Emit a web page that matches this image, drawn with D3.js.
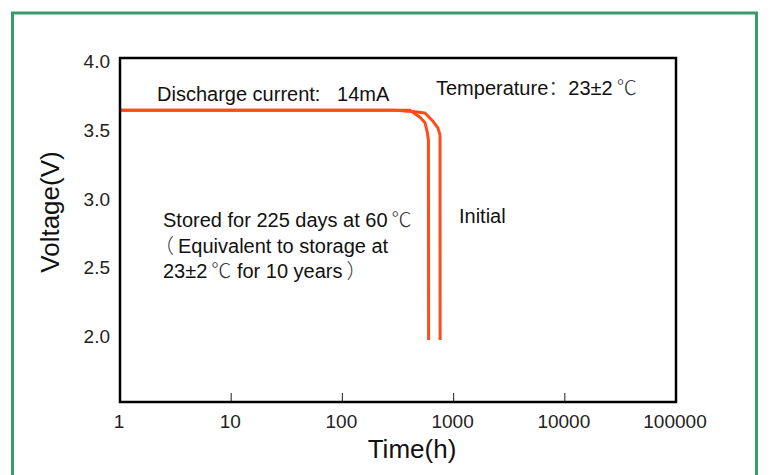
<!DOCTYPE html>
<html><head><meta charset="utf-8">
<script src="https://cdn.jsdelivr.net/npm/d3@7/dist/d3.min.js"></script>
<style>body{margin:0;background:#fff}svg{display:block;font-family:"Liberation Sans",Arial,sans-serif}</style>
</head><body><svg id="c" width="770" height="475"></svg>
<script>
const xTicks = [1, 10, 100, 1000, 10000, 100000];
const xTickLabels = ["1", "10", "100", "1000", "10000", "100000"];
const yTicks = [2.0, 2.5, 3.0, 3.5, 4.0];
const yTickLabels = ["2.0", "2.5", "3.0", "3.5", "4.0"];
// Stored for 225 days at 60°C
const storedHours = [1, 100, 300, 405, 499, 553, 580, 594, 596];
const storedVolts = [3.62, 3.62, 3.62, 3.62, 3.57, 3.53, 3.46, 3.40, 1.95];
// Initial
const initialHours = [1, 100, 300, 450, 553, 653, 724, 755, 757];
const initialVolts = [3.62, 3.62, 3.62, 3.61, 3.60, 3.54, 3.49, 3.44, 1.95];

const svg = d3.select("#c");
const L = 120, R = 676, T = 58, B = 402;
const x = d3.scaleLog().domain([1, 100000]).range([L, R]);
const y = d3.scaleLinear().domain([1.5, 4.0]).range([B, T]);
const CJK = "'Noto Sans CJK SC', sans-serif";

// green frame
svg.append("path").attr("d", `M12.5,480 L12.5,13 L756.5,13 L756.5,480`)
  .attr("fill", "none").attr("stroke", "#3a9a6a").attr("stroke-width", 3);

// inner ticks on x axis
svg.append("g").selectAll("line").data(xTicks.slice(1, -1)).join("line")
  .attr("x1", d => x(d)).attr("x2", d => x(d)).attr("y1", B).attr("y2", B - 9)
  .attr("stroke", "#444").attr("stroke-width", 1.2);

// tick labels
svg.append("g").selectAll("text").data(xTicks).join("text")
  .attr("x", d => x(d) - 1).attr("y", 428).attr("text-anchor", "middle")
  .attr("font-size", 19).attr("fill", "#222").text((d, i) => xTickLabels[i]);
svg.append("g").selectAll("text").data(yTicks).join("text")
  .attr("x", 110).attr("y", d => y(d) + 5).attr("text-anchor", "end").attr("dominant-baseline", "middle")
  .attr("font-size", 19).attr("fill", "#222").text((d, i) => yTickLabels[i]);

// curves
const lineV = d3.line().x(d => x(d[0])).y(d => y(d[1]));
[[storedHours, storedVolts], [initialHours, initialVolts]].forEach(([h, v]) => {
  const pts = h.map((d, i) => [d, v[i]]);
  svg.append("path").datum(pts).attr("d", lineV)
    .attr("fill", "none").attr("stroke", "#ff4d1a").attr("stroke-width", 3)
    .attr("stroke-linejoin", "round");
});

// box
svg.append("rect").attr("x", L).attr("y", T).attr("width", R - L).attr("height", B - T)
  .attr("fill", "none").attr("stroke", "#000").attr("stroke-width", 2.5);

// annotations: arrays of [text, font] segments
const ann = [
  [[["Discharge current:\u00a0\u00a0 14mA", null]], 157, 101],
  [[["Temperature", null], ["：", CJK], ["23±2", null], ["\u2009℃", CJK]], 436, 95],
  [[["Stored for 225 days at 60", null], ["\u2009℃", CJK]], 163, 227],
  [[["（", CJK], ["\u2009Equivalent to storage at", null]], 154, 253],
  [[["23±2", null], ["\u2009℃", CJK], ["\u00a0for 10 years\u2009", null], ["）", CJK]], 163, 278],
  [[["Initial", null]], 459, 223]
];
const g = svg.append("g");
ann.forEach(([segs, ax, ay]) => {
  const t = g.append("text").attr("x", ax).attr("y", ay).attr("font-size", 20).attr("fill", "#111");
  segs.forEach(([s, f]) => {
    const sp = t.append("tspan").text(s);
    if (f) sp.attr("font-family", f).attr("font-weight", 300).attr("fill", "#333");
  });
});

// axis titles
svg.append("text").attr("x", 412).attr("y", 458).attr("text-anchor", "middle")
  .attr("font-size", 26).attr("fill", "#111").text("Time(h)");
svg.append("text").attr("transform", "translate(59,212) rotate(-90)").attr("text-anchor", "middle")
  .attr("font-size", 26).attr("fill", "#111").text("Voltage(V)");
</script></body></html>
